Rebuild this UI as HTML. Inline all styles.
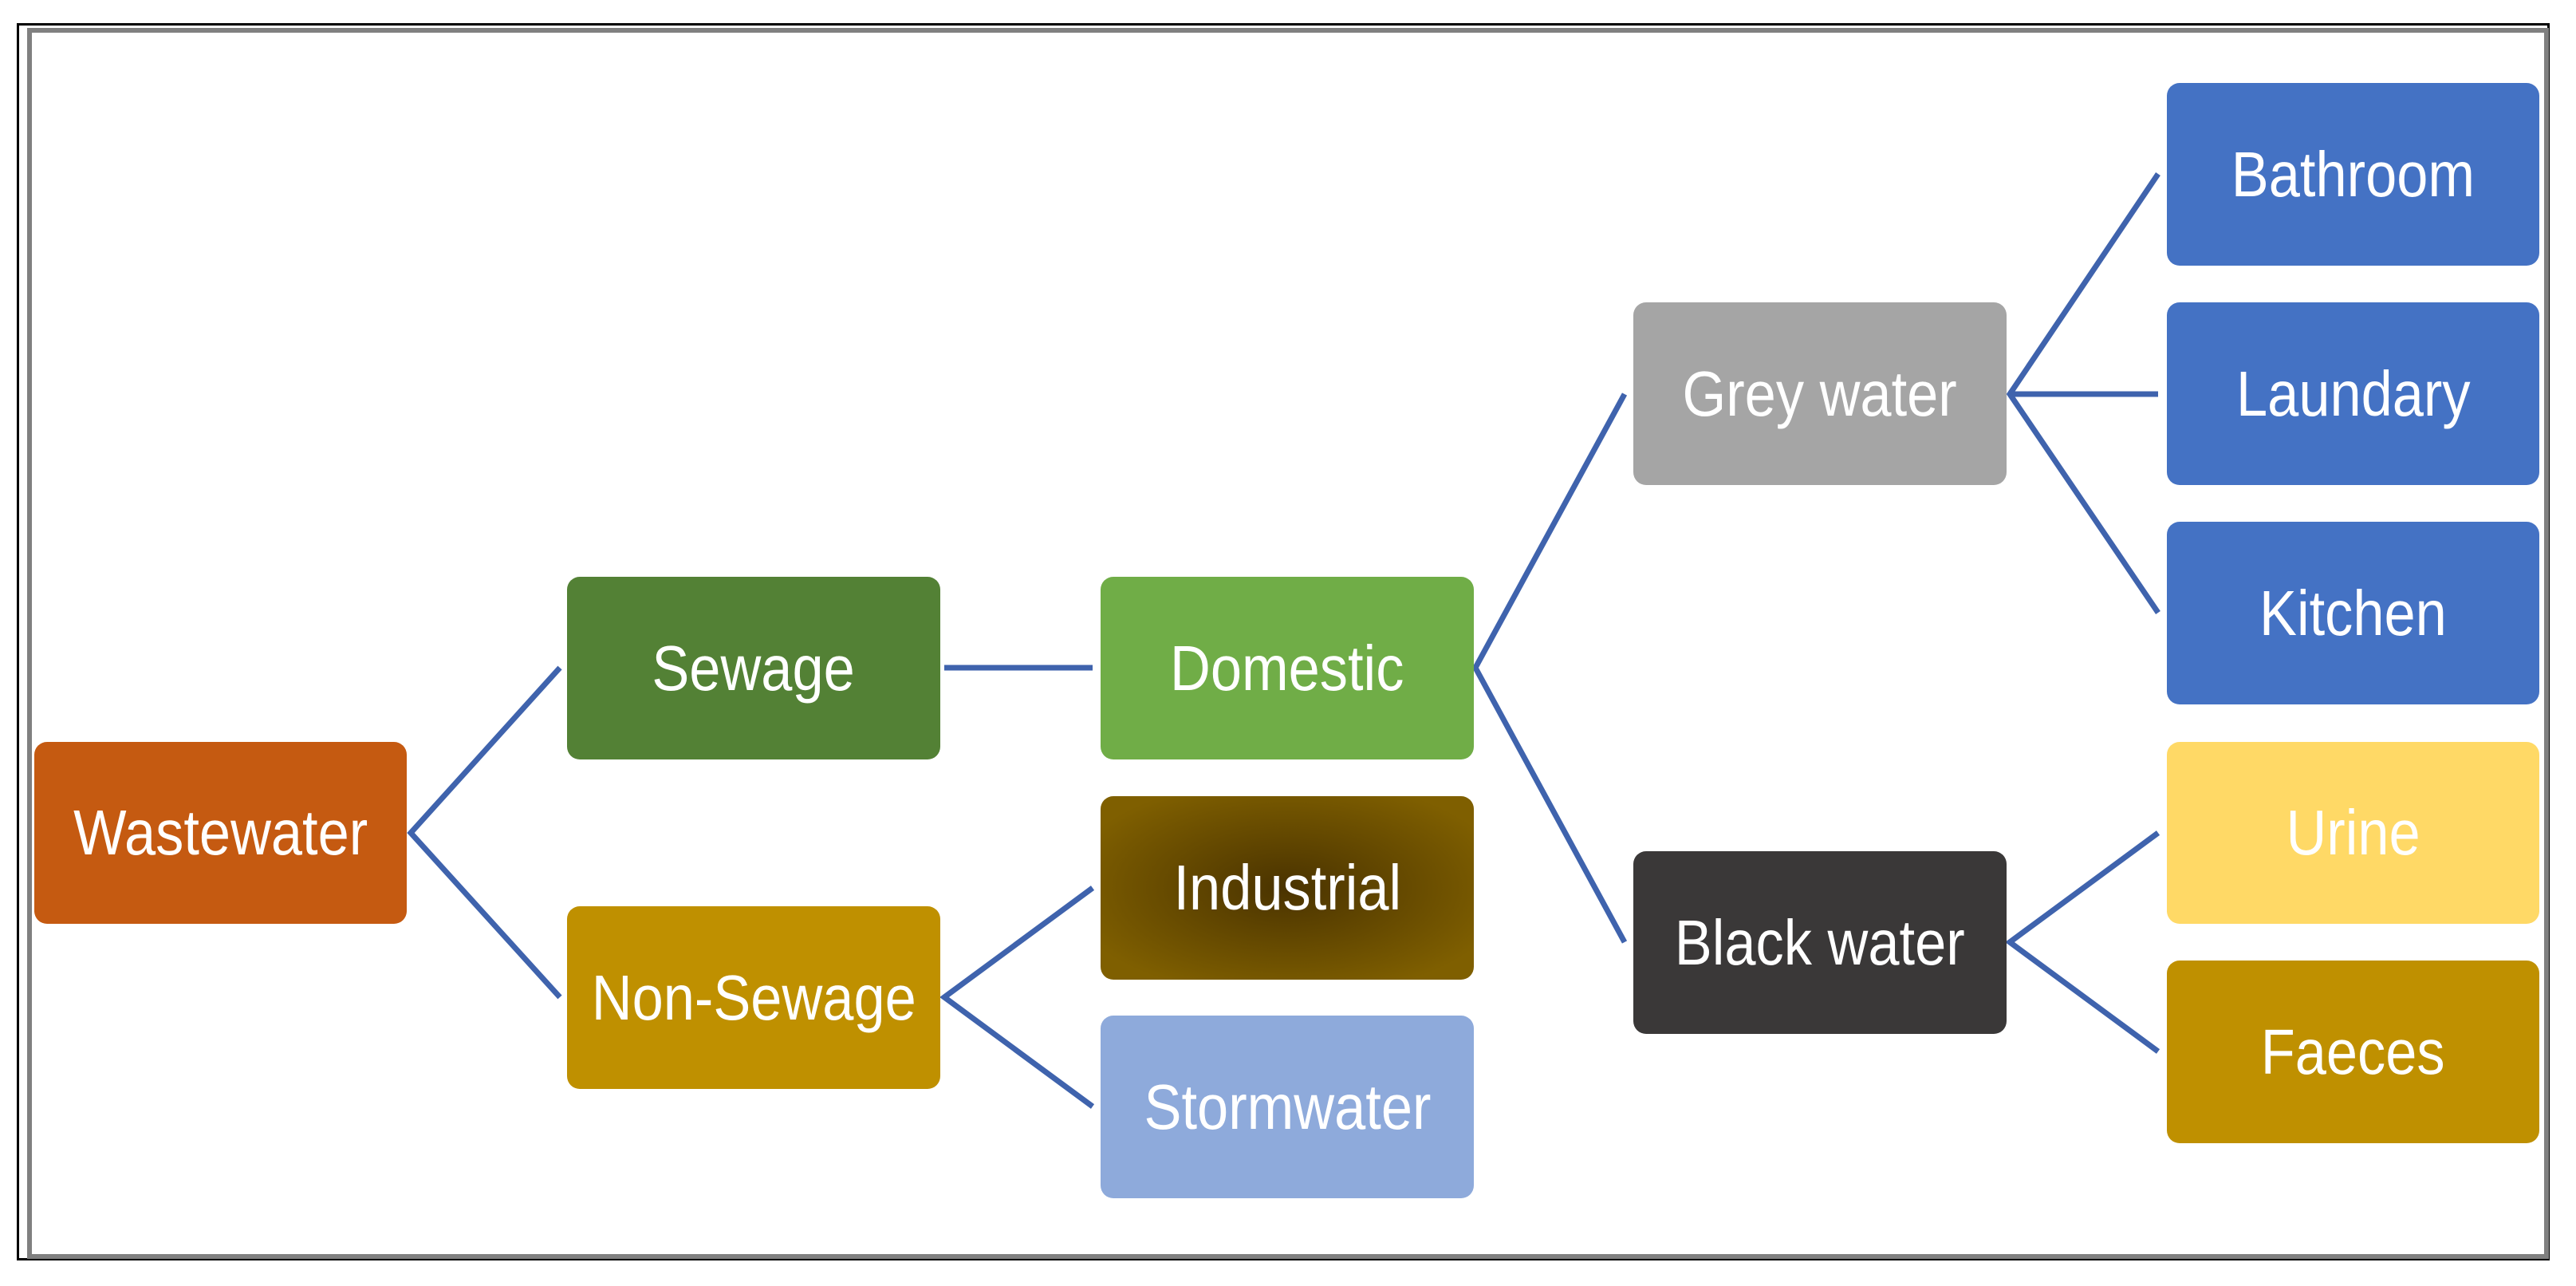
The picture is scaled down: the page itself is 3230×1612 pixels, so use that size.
<!DOCTYPE html>
<html><head><meta charset="utf-8"><style>
body{margin:0;width:3230px;height:1612px;background:#fff;position:relative;overflow:hidden;font-family:"Liberation Sans",sans-serif}
.b{position:absolute;border-radius:16px;display:flex;align-items:center;justify-content:center;color:#fff;font-size:80px}
.b span{display:inline-block;transform:scaleX(0.88);white-space:nowrap}
</style></head><body>
<div style="position:absolute;left:21px;top:29px;width:3176px;height:1551px;border:3px solid #000;box-sizing:border-box"></div>
<div style="position:absolute;left:34px;top:35px;width:3162px;height:1543px;border:6px solid #808080;box-sizing:border-box"></div>
<svg width="3230" height="1612" style="position:absolute;left:0;top:0">
<g stroke="#3f63ad" stroke-width="7" fill="none">
<polyline points="702,837 515,1044 702,1250"/>
<line x1="1184" y1="837" x2="1370" y2="837"/>
<polyline points="1370,1113 1184,1250 1370,1387"/>
<polyline points="2037,494 1850,837 2037,1181"/>
<polyline points="2706,218 2520,494 2706,768"/>
<line x1="2520" y1="494" x2="2706" y2="494"/>
<polyline points="2706,1044 2520,1181 2706,1318"/>
</g></svg>
<div class="b" style="left:43px;top:930px;width:467px;height:228px;background:#c55a11"><span>Wastewater</span></div>
<div class="b" style="left:711px;top:723px;width:468px;height:229px;background:#538135"><span>Sewage</span></div>
<div class="b" style="left:711px;top:1136px;width:468px;height:229px;background:#bf9000"><span>Non-Sewage</span></div>
<div class="b" style="left:1380px;top:723px;width:468px;height:229px;background:#70ad47"><span>Domestic</span></div>
<div class="b" style="left:1380px;top:998px;width:468px;height:230px;background:radial-gradient(ellipse at center,#4a3300 0%,#7f5f00 85%)"><span>Industrial</span></div>
<div class="b" style="left:1380px;top:1273px;width:468px;height:229px;background:#8eaadb"><span>Stormwater</span></div>
<div class="b" style="left:2048px;top:379px;width:468px;height:229px;background:#a5a5a5"><span>Grey water</span></div>
<div class="b" style="left:2048px;top:1067px;width:468px;height:229px;background:#3a3838"><span>Black water</span></div>
<div class="b" style="left:2717px;top:104px;width:467px;height:229px;background:#4472c4"><span>Bathroom</span></div>
<div class="b" style="left:2717px;top:379px;width:467px;height:229px;background:#4472c4"><span>Laundary</span></div>
<div class="b" style="left:2717px;top:654px;width:467px;height:229px;background:#4472c4"><span>Kitchen</span></div>
<div class="b" style="left:2717px;top:930px;width:467px;height:228px;background:#ffd966"><span>Urine</span></div>
<div class="b" style="left:2717px;top:1204px;width:467px;height:229px;background:#bf9000"><span>Faeces</span></div>
</body></html>
